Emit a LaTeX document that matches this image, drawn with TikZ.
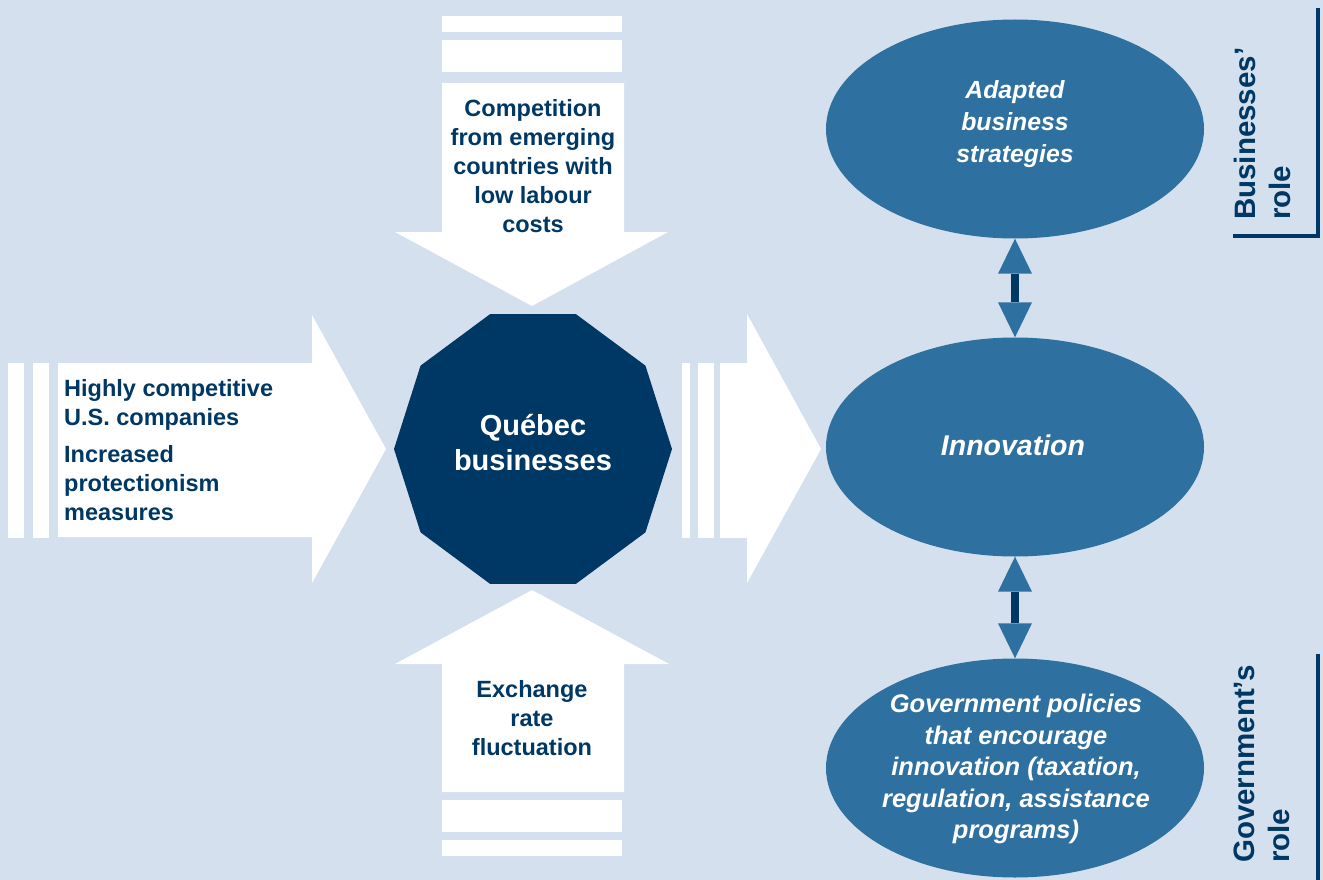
\documentclass[tikz,border=0pt]{standalone}
\usepackage{fontspec}
\setmainfont{Liberation Sans}
\usetikzlibrary{shapes.geometric,calc}
\definecolor{bgblue}{RGB}{212,224,237}
\definecolor{navy}{RGB}{0,56,101}
\definecolor{midblue}{RGB}{46,112,160}
\tikzset{
  arrowshape/.style={fill=white},
  darktext/.style={text=navy,font=\bfseries\fontsize{23.5}{29}\selectfont,inner sep=0pt},
  elltext/.style={text=white,font=\bfseries\itshape\fontsize{25.5}{31.5}\selectfont,inner sep=0pt,align=center},
  ellblue/.style={ellipse,fill=midblue,minimum width=378pt,minimum height=219pt,inner sep=0pt},
  rolelabel/.style={text=navy,font=\bfseries\fontsize{29.5}{35}\selectfont,inner sep=0pt,align=left,rotate=90,anchor=north west},
  linkshaft/.style={draw=navy,line width=8pt},
  linktip/.style={fill=midblue},
  bracket/.style={draw=navy,line width=4pt}
}
\begin{document}
\begin{tikzpicture}[x=1pt,y=-1pt]
\useasboundingbox (0,0) rectangle (1323,880);
\fill[bgblue] (0,0) rectangle (1323,880);

% top arrow (pointing down)
\fill[arrowshape] (442,16) rectangle (622,32);
\fill[arrowshape] (442,40) rectangle (622,72);
\fill[arrowshape] (442,83) -- (624,83) -- (624,232) -- (668,232) -- (532,306) -- (395,232) -- (442,232) -- cycle;
\node[darktext,align=center] (comp) at (533,166.5) {Competition\\from emerging\\countries with\\low labour\\costs};

% bottom arrow (pointing up)
\fill[arrowshape] (532,590) -- (669,664) -- (624,664) -- (624,792) -- (442,792) -- (442,664) -- (395,664) -- cycle;
\fill[arrowshape] (442,800) rectangle (622,832);
\fill[arrowshape] (442,840) rectangle (622,856);
\node[darktext,align=center] (exch) at (532,718.5) {Exchange\\rate\\fluctuation};

% left arrow
\fill[arrowshape] (8,363) rectangle (24,538);
\fill[arrowshape] (33,363) rectangle (49,538);
\fill[arrowshape] (58,363) -- (312,363) -- (312,315) -- (386,449) -- (312,583) -- (312,537) -- (58,537) -- cycle;
\node[darktext,align=left,anchor=west] (us) at (64,450) {Highly competitive\\U.S. companies\\[7.5pt]Increased\\protectionism\\measures};

% right arrow
\fill[arrowshape] (682,363) rectangle (690,538);
\fill[arrowshape] (698,363) rectangle (714,538);
\fill[arrowshape] (720,363) -- (747,363) -- (747,314) -- (821,449) -- (747,583) -- (747,538) -- (720,538) -- cycle;

% central decagon
\node[regular polygon,regular polygon sides=10,minimum size=278pt,inner sep=0pt,fill=navy,yscale=1.02] (qc) at (533,449) {};
\node[text=white,font=\bfseries\fontsize{29}{35}\selectfont,align=center,inner sep=0pt] (qctext) at (533,443) {Québec\\businesses};

% ellipses
\node[ellblue] (adapt) at (1015,129) {};
\node[elltext,font=\bfseries\itshape\fontsize{24.8}{32}\selectfont] (adapttext) at (1015,124) {Adapted\\business\\strategies};
\node[ellblue] (innov) at (1015,447) {};
\node[elltext,font=\bfseries\itshape\fontsize{28.5}{34}\selectfont] (innovtext) at (1013,445) {Innovation};
\node[ellblue] (gov) at (1015,768) {};
\node[elltext] (govtext) at (1016,769) {Government policies\\that encourage\\innovation (taxation,\\regulation, assistance\\programs)};

% double arrows between ellipses
\fill[linktip] (adapt.south) -- ++(17,35) -- ++(-34,0) -- cycle;
\draw[linkshaft] ($(adapt.south)+(0,35)$) -- ($(innov.north)-(0,35)$);
\fill[linktip] (innov.north) -- ++(17,-35) -- ++(-34,0) -- cycle;
\fill[linktip] (innov.south) -- ++(17,35) -- ++(-34,0) -- cycle;
\draw[linkshaft] ($(innov.south)+(0,35)$) -- ($(gov.north)-(0,35)$);
\fill[linktip] (gov.north) -- ++(17,-35) -- ++(-34,0) -- cycle;

% role labels and brackets
\node[rolelabel] (brole) at (1234,220) {Businesses’\\role};
\coordinate (bA) at (1233,236);
\coordinate (bB) at (1318,236);
\coordinate (bC) at (1318,8);
\draw[bracket] (bA) -- (bB) -- (bC);
\node[rolelabel] (grole) at (1234,863) {Government’s\\role};
\coordinate (gA) at (1318,654);
\coordinate (gB) at (1318,880);
\draw[bracket] (gA) -- (gB);
\end{tikzpicture}
\end{document}
